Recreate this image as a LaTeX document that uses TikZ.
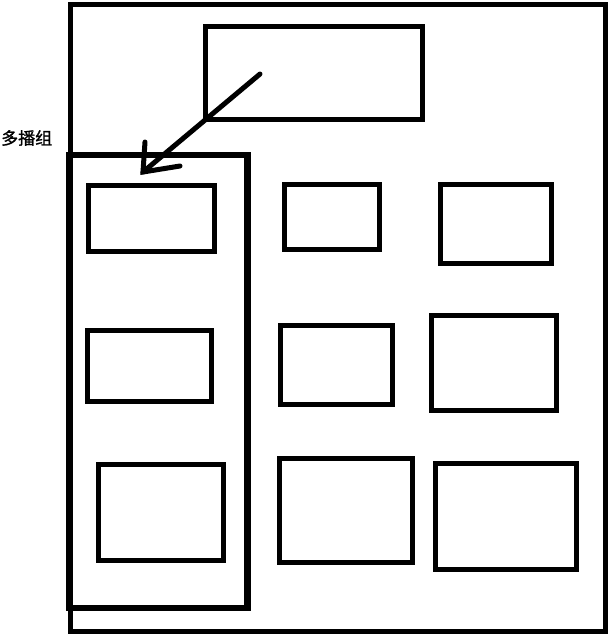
\documentclass[tikz,border=0pt]{standalone}
\usepackage{fontspec}
\usepackage{tikz}
\usetikzlibrary{calc}
\newfontfamily\cjk[FakeBold=1.2]{Noto Sans CJK SC}

\begin{document}
\begin{tikzpicture}[x=1pt, y=-1pt, line cap=round,
    pane/.style={draw=black, line width=5pt, minimum width=#1, inner sep=0pt, outer sep=0pt},
    pane/.default=10pt]

  \useasboundingbox (0,0) rectangle (609,635);

  % Outer frame and sender window
  \node[pane, line width=5pt, minimum width=534.5pt, minimum height=626.5pt] (frame) at (337.75,317.75) {};
  \node[pane, minimum width=217pt, minimum height=93pt] (src) at (314,73) {};

  % Multicast group
  \node[pane, line width=6.5pt, minimum width=178pt, minimum height=453pt] (group) at (158.5,381.5) {};
  \node[font=\cjk\fontsize{17}{19}\selectfont, anchor=west, inner sep=0pt] (grouplabel) at (1,138) {多播组};

  % Receiver windows
  \foreach \name/\x/\y/\w/\h in {a/151.25/218.5/126.5/66, b/331.75/216.75/94.5/65.5, c/495.75/224/111.5/79,
      d/149.25/366/124.5/71, e/336/365/112/79, f/493.75/363/125.5/95,
      g/161/512.25/125/95.5, h/345.5/510/133/104, i/505.75/516/140.5/106} {
    \node[pane, minimum width=\w pt, minimum height=\h pt] (\name) at (\x,\y) {};
  }

  % Arrow into the group
  \coordinate (from) at (260,74);
  \coordinate (tip) at (143,172);
  \coordinate (barbL) at (145,142);
  \coordinate (barbR) at (180,166);
  \draw[line width=5pt] (from) -- (tip);
  \draw[line width=5pt] (barbL) -- (tip) -- (barbR);

\end{tikzpicture}
\end{document}
